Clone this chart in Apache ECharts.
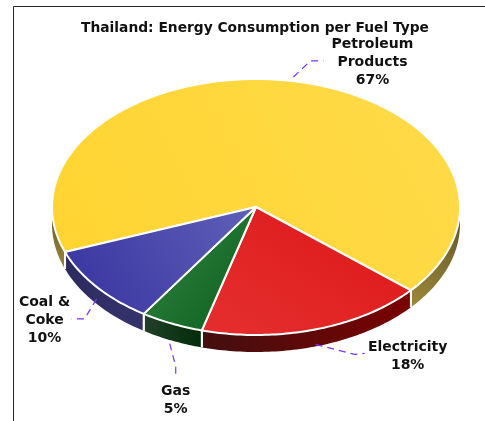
<!DOCTYPE html>
<html><head><meta charset="utf-8">
<style>html,body{margin:0;padding:0;background:#fff}#c{width:485px;height:421px}</style>
<script src="https://cdn.jsdelivr.net/npm/echarts@6/dist/echarts.min.js"></script>
</head><body><div id="c"></div>
<script>
const fuelTypes = ['Petroleum\nProducts', 'Electricity', 'Gas', 'Coal &\nCoke'];
const shares = [67, 18, 5, 10];
const titleText = 'Thailand: Energy Consumption per Fuel Type';

const pie = {cx: 256, cy: 207, rx: 204, ry: 128, depth: 17, firstSliceEnd: 40.6};
const topColors = [
  ['#ffdb4a', '#ffd430', 1, 0, 0, 1],
  ['#de1a1a', '#e42c2c', 0.7, 0, 0.3, 1],
  ['#2f8440', '#0d5e1e', 0, 0.2, 1, 0.9],
  ['#6060b8', '#37329f', 1, 0, 0, 1]
];
const wallColors = [
  ['#9c8a3a', '#5f5226', 0, 1, 1, 0],
  ['#430f0f', '#7a0202', 0, 0, 1, 0],
  ['#22402a', '#012c08', 0, 0, 1, 0],
  ['#2c2b60', '#35336c', 0, 0, 1, 0]
];
// callout geometry: bends relative to the slice's rim midpoint, label centre relative to it too
const callouts = [
  {gap: [2, -4], bend: [19, -20], end: [32, -20], label: [81, -19], wall: 0},
  {gap: [0, -2], bend: [39, 8], end: [49, 7], label: [92, 10], wall: 1},
  {gap: [-2, 3], bend: [4, 26], end: [4, 36], label: [4, 60], wall: 1},
  {gap: [0, -5], bend: [-12, 15], end: [-25, 15], label: [-52, 17], wall: 1}
];

const total = shares.reduce((a, b) => a + b, 0);
const data = shares.map((v, i) => ({name: fuelTypes[i], value: v}));
let cursor = pie.firstSliceEnd - shares[0] / total * 360;
const spans = shares.map(v => { const s = cursor; cursor += v / total * 360; return [s, cursor]; });

const rimPt = (deg, dy) => {
  const a = deg * Math.PI / 180;
  return [pie.cx + pie.rx * Math.cos(a), pie.cy + pie.ry * Math.sin(a) + (dy || 0)];
};
const arc = (a, b, dy) => {
  const pts = [], n = Math.max(2, Math.ceil(Math.abs(b - a)));
  for (let k = 0; k <= n; k++) pts.push(rimPt(a + (b - a) * k / n, dy));
  return pts;
};
const grad = c => new echarts.graphic.LinearGradient(c[2], c[3], c[4], c[5], [{offset: 0, color: c[0]}, {offset: 1, color: c[1]}]);
const visibleWalls = ([s, e]) => {
  const out = [];
  for (const base of [-360, 0, 360]) {
    const a = Math.max(s, base), b = Math.min(e, base + 180);
    if (b > a) out.push([a, b]);
  }
  return out;
};

const renderSlice = (params, api) => {
  const i = api.value(2);
  const [s, e] = spans[i];
  const children = [];
  visibleWalls([s, e]).forEach(([a, b]) => {
    children.push({
      type: 'polygon',
      shape: {points: arc(a, b, 0).concat(arc(b, a, pie.depth))},
      style: {fill: grad(wallColors[i]), stroke: '#fff', lineWidth: 0}
    });
    [a, b].forEach(d => {
      if (d % 180 === 0) return;
      const p = rimPt(d), q = rimPt(d, pie.depth);
      children.push({type: 'line', shape: {x1: p[0], y1: p[1], x2: q[0], y2: q[1]}, style: {stroke: '#fff', lineWidth: 2}});
    });
  });
  children.push({
    type: 'polygon',
    shape: {points: [[pie.cx, pie.cy]].concat(arc(s, e, 0))},
    style: {fill: grad(topColors[i]), stroke: '#fff', lineWidth: 2, lineJoin: 'round'}
  });
  const c = callouts[i];
  const m = rimPt((s + e) / 2, c.wall ? pie.depth : 0);
  const o = (d) => [m[0] + d[0], m[1] + d[1]];
  children.push({
    type: 'polyline',
    shape: {points: [o(c.gap), o(c.bend), o(c.end)]},
    style: {fill: 'none', stroke: '#7a33ff', lineWidth: 1.2, lineDash: [7, 5]}
  });
  const l = o(c.label);
  children.push({
    type: 'text', x: l[0], y: l[1],
    style: {
      text: api.value(3) + '\n' + api.value(1) + '%',
      fill: '#111', font: 'bold 14px "DejaVu Sans"', lineHeight: 18,
      align: 'center', verticalAlign: 'middle'
    }
  });
  return {type: 'group', children};
};

const chart = echarts.init(document.getElementById('c'), null, {renderer: 'canvas'});
chart.setOption({
  animation: false,
  backgroundColor: '#fff',
  title: {
    text: titleText, left: 250, top: 16, textAlign: 'center',
    textStyle: {fontFamily: 'DejaVu Sans', fontWeight: 'bold', fontSize: 13.8, color: '#111'}
  },
  graphic: [{
    type: 'polyline', silent: true,
    shape: {points: [[13.5, 421], [13.5, 6.5], [485, 6.5]]},
    style: {fill: 'none', stroke: '#222', lineWidth: 1}
  }],
  series: [{
    type: 'custom',
    coordinateSystem: 'none',
    renderItem: renderSlice,
    data: data.map((d, i) => [i, d.value, i, d.name]),
    dimensions: ['idx', 'value', 'slice', {name: 'label', type: 'ordinal'}],
    encode: {tooltip: 1}
  }]
});
</script></body></html>
